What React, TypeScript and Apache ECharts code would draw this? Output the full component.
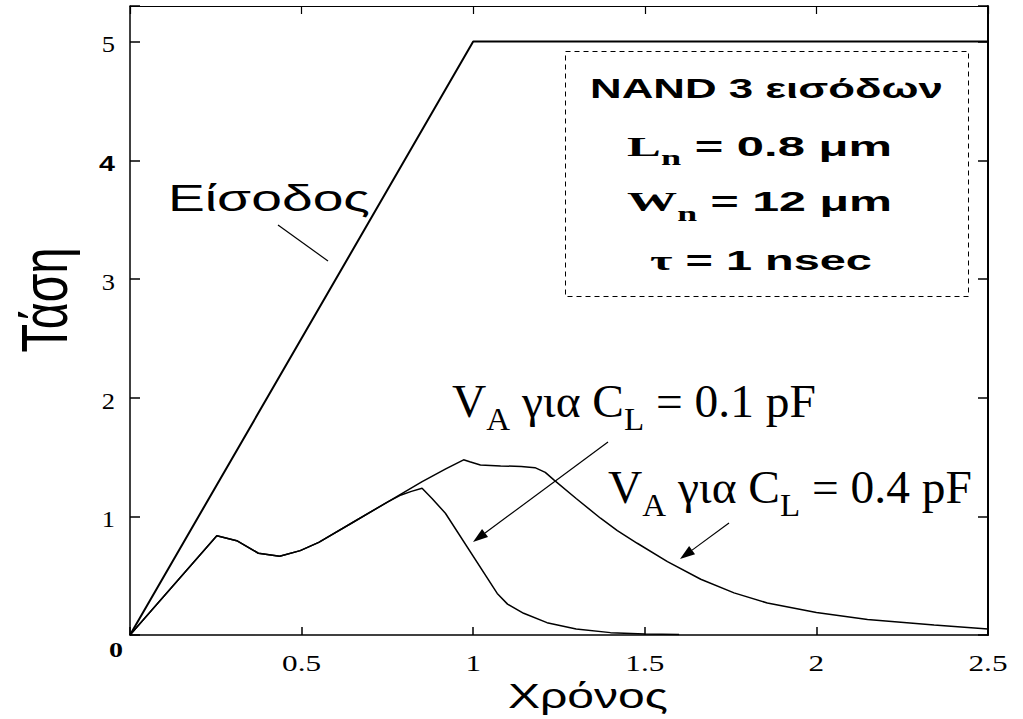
import React, { useEffect, useRef } from 'react';
import * as echarts from 'echarts';

// ---- data ----
const xTickValues = [0, 0.5, 1, 1.5, 2, 2.5];
const xTickLabels = ['', '0.5', '1', '1.5', '2', '2.5'];
const yTickValues = [0, 1, 2, 3, 4, 5];
const yTickLabels = ['', '1', '2', '3', '4', '5'];

const inputX = [0, 1, 2.5];
const inputY = [0, 5, 5];

const va01X = [0, 0.253, 0.311, 0.374, 0.436, 0.496, 0.55, 0.65, 0.75, 0.79, 0.82, 0.851, 0.88, 0.919, 1.07, 1.1, 1.147, 1.215, 1.3, 1.4, 1.5, 1.6];
const va01Y = [0, 0.837, 0.795, 0.689, 0.663, 0.711, 0.78, 0.95, 1.12, 1.18, 1.21, 1.237, 1.15, 1.026, 0.35, 0.26, 0.183, 0.104, 0.05, 0.02, 0.008, 0.005];

const va04X = [0, 0.253, 0.311, 0.374, 0.436, 0.496, 0.55, 0.65, 0.75, 0.85, 0.92, 0.972, 0.99, 1.021, 1.08, 1.14, 1.18, 1.21, 1.235, 1.3, 1.371, 1.42, 1.478, 1.566, 1.663, 1.76, 1.857, 2.0, 2.149, 2.343, 2.5];
const va04Y = [0, 0.837, 0.795, 0.689, 0.663, 0.711, 0.78, 0.95, 1.12, 1.29, 1.4, 1.476, 1.46, 1.433, 1.425, 1.42, 1.41, 1.37, 1.307, 1.15, 0.984, 0.88, 0.773, 0.618, 0.47, 0.355, 0.27, 0.19, 0.13, 0.084, 0.05];

const SANS = 'Liberation Sans, Arial, sans-serif';
const SERIF = 'Liberation Serif, Times New Roman, serif';

type Tok = { t: string; fam: string; size: number; bold?: boolean; sub?: boolean };

function fontStr(k: Tok) {
  return `${k.bold ? 'bold' : 'normal'} ${k.size}px ${k.fam}`;
}

function makeMeasure() {
  const c = document.createElement('canvas');
  const ctx = c.getContext('2d') as CanvasRenderingContext2D;
  return (toks: Tok[]) => {
    let w = 0;
    for (const k of toks) {
      ctx.font = fontStr(k);
      w += ctx.measureText(k.t).width;
    }
    return w;
  };
}

// rich text: all tokens top-aligned; subscripts pushed down with top padding
function richLabel(
  measure: (t: Tok[]) => number,
  toks: Tok[],
  o: { x: number; baseline: number; width: number; align: 'left' | 'center'; drop?: number }
) {
  const main = toks.find((k) => !k.sub) as Tok;
  const size = main.size;
  const rich: any = {};
  let text = '';
  toks.forEach((k, i) => {
    const key = 't' + i;
    const pt = k.sub ? (o.drop || 0) + (size - k.size) * 0.84 : 0;
    rich[key] = {
      fontFamily: k.fam,
      fontSize: k.size,
      fontWeight: k.bold ? 'bold' : 'normal',
      lineHeight: k.size,
      verticalAlign: 'top',
      padding: [pt, 0, 0, 0],
      fill: '#000',
    };
    text += `{${key}|${k.t}}`;
  });
  const natural = measure(toks);
  return {
    type: 'text',
    x: o.x,
    y: o.baseline - size * 0.84,
    scaleX: o.width / natural,
    silent: true,
    style: { text, rich, align: o.align, verticalAlign: 'top' },
  };
}

function arrow(x1: number, y1: number, x2: number, y2: number, len = 15, half = 5) {
  const dx = x2 - x1;
  const dy = y2 - y1;
  const L = Math.hypot(dx, dy);
  const ux = dx / L;
  const uy = dy / L;
  const bx = x2 - ux * len;
  const by = y2 - uy * len;
  const nx = -uy;
  const ny = ux;
  return [
    { type: 'line', silent: true, shape: { x1, y1, x2: bx, y2: by }, style: { stroke: '#000', lineWidth: 1.2 } },
    {
      type: 'polygon',
      silent: true,
      shape: { points: [[x2, y2], [bx + nx * half, by + ny * half], [bx - nx * half, by - ny * half]] },
      style: { fill: '#000' },
    },
  ];
}

const zip = (xs: number[], ys: number[]) => xs.map((x, i) => [x, ys[i]]);

export default function App() {
  const ref = useRef<HTMLDivElement>(null);

  useEffect(() => {
    if (!ref.current) return;
    const chart = echarts.init(ref.current, undefined, { renderer: 'svg' });
    const measure = makeMeasure();

    const axisLineStyle = { color: '#000', width: 1.5 };

    const tasiNatural = measure([{ t: 'Τάση', fam: SANS, size: 65 }]);
    const zeroNatural = measure([{ t: '0', fam: SERIF, size: 22, bold: true }]);

    const vaLabel = (val: string, x: number, baseline: number, width: number) =>
      richLabel(
        measure,
        [
          { t: 'V', fam: SERIF, size: 46 },
          { t: 'A', fam: SERIF, size: 32, sub: true },
          { t: ' για C', fam: SERIF, size: 46 },
          { t: 'L', fam: SERIF, size: 32, sub: true },
          { t: ' = ' + val + ' pF', fam: SERIF, size: 46 },
        ],
        { x, baseline, width, align: 'left', drop: 13 }
      );

    const graphic: any[] = [
      // parameter box
      {
        type: 'rect',
        silent: true,
        shape: { x: 565.5, y: 51.5, width: 403, height: 245 },
        style: { fill: 'none', stroke: '#000', lineWidth: 1, lineDash: [5, 4] },
      },
      richLabel(measure, [{ t: 'NAND 3 εισόδων', fam: SANS, size: 27, bold: true }], { x: 766.5, baseline: 97.5, width: 353, align: 'center' }),
      richLabel(
        measure,
        [
          { t: 'L', fam: SERIF, size: 28, bold: true },
          { t: 'n', fam: SERIF, size: 20, bold: true, sub: true },
          { t: ' = 0.8 μm', fam: SANS, size: 27, bold: true },
        ],
        { x: 759.5, baseline: 156, width: 265, align: 'center', drop: 9 }
      ),
      richLabel(
        measure,
        [
          { t: 'W', fam: SERIF, size: 28, bold: true },
          { t: 'n', fam: SERIF, size: 20, bold: true, sub: true },
          { t: ' = 12 μm', fam: SANS, size: 27, bold: true },
        ],
        { x: 759.5, baseline: 211.5, width: 265, align: 'center', drop: 9 }
      ),
      richLabel(
        measure,
        [
          { t: 'τ', fam: SERIF, size: 28, bold: true },
          { t: ' = 1 nsec', fam: SANS, size: 27, bold: true },
        ],
        { x: 761, baseline: 270, width: 222, align: 'center' }
      ),
      // input label and leader
      richLabel(measure, [{ t: 'Είσοδος', fam: SANS, size: 36 }], { x: 168, baseline: 211, width: 202, align: 'left' }),
      { type: 'line', silent: true, shape: { x1: 278, y1: 225, x2: 328, y2: 261 }, style: { stroke: '#000', lineWidth: 1.2 } },
      // V_A labels
      vaLabel('0.1', 452, 417, 364),
      vaLabel('0.4', 608, 503, 364),
      ...arrow(608, 442, 473, 542),
      ...arrow(729, 523, 680, 559),
      // axis titles
      {
        type: 'text',
        silent: true,
        x: 45,
        y: 300,
        rotation: Math.PI / 2,
        scaleX: 105 / tasiNatural,
        style: { text: 'Τάση', fontFamily: SANS, fontSize: 65, fill: '#000', align: 'center', verticalAlign: 'middle' },
      },
      richLabel(measure, [{ t: 'Χρόνος', fam: SANS, size: 35 }], { x: 508, baseline: 708, width: 160, align: 'left' }),
      // origin label
      {
        type: 'text',
        silent: true,
        x: 116,
        y: 650,
        scaleX: 14 / zeroNatural,
        style: { text: '0', fontFamily: SERIF, fontSize: 22, fontWeight: 'bold', fill: '#000', align: 'center', verticalAlign: 'middle' },
      },
    ];

    const lineSeries = (name: string, xs: number[], ys: number[], w: number) => ({
      name,
      type: 'line',
      data: zip(xs, ys),
      showSymbol: false,
      symbol: 'none',
      silent: true,
      lineStyle: { color: '#000', width: w },
      itemStyle: { color: '#000' },
    });

    const option: any = {
      animation: false,
      backgroundColor: '#fff',
      grid: { left: 130, right: 35, top: 6, bottom: 84, show: false, containLabel: false },
      xAxis: [
        {
          type: 'value',
          min: xTickValues[0],
          max: xTickValues[xTickValues.length - 1],
          interval: 0.5,
          position: 'bottom',
          axisLine: { show: true, onZero: false, lineStyle: axisLineStyle },
          axisTick: { show: true, inside: true, length: 8, lineStyle: axisLineStyle },
          axisLabel: { show: false },
          splitLine: { show: false },
        },
        {
          type: 'value',
          min: xTickValues[0],
          max: xTickValues[xTickValues.length - 1],
          interval: 0.5,
          position: 'top',
          axisLine: { show: true, onZero: false, lineStyle: { color: '#000', width: 1.2 } },
          axisTick: { show: true, inside: true, length: 8, lineStyle: { color: '#000', width: 1.2 } },
          axisLabel: { show: false },
          splitLine: { show: false },
        },
      ],
      yAxis: [
        {
          type: 'value',
          min: yTickValues[0],
          max: 5.3,
          interval: 1,
          position: 'left',
          axisLine: { show: true, onZero: false, lineStyle: axisLineStyle },
          axisTick: { show: true, inside: true, length: 10, lineStyle: axisLineStyle },
          axisLabel: { show: false },
          splitLine: { show: false },
        },
        {
          type: 'value',
          min: yTickValues[0],
          max: 5.3,
          interval: 1,
          position: 'right',
          axisLine: { show: true, onZero: false, lineStyle: { color: '#000', width: 2 } },
          axisTick: { show: true, inside: true, length: 10, lineStyle: axisLineStyle },
          axisLabel: { show: false },
          splitLine: { show: false },
        },
      ],
      series: [
        lineSeries('Είσοδος', inputX, inputY, 2),
        lineSeries('V_A για C_L = 0.1 pF', va01X, va01Y, 1.5),
        lineSeries('V_A για C_L = 0.4 pF', va04X, va04Y, 1.5),
      ],
      graphic,
    };

    chart.setOption(option);

    // tick labels placed through the axes' own scales (stretched like the reference glyphs)
    const px = (v: number) => chart.convertToPixel({ xAxisIndex: 0 }, v) as unknown as number;
    const py = (v: number) => chart.convertToPixel({ yAxisIndex: 0 }, v) as unknown as number;
    const axisY = py(0);
    const axisX = px(0);
    const tickLabels: any[] = [];
    xTickValues.forEach((v, i) => {
      if (!xTickLabels[i]) return;
      tickLabels.push({
        type: 'text',
        silent: true,
        x: px(v),
        y: axisY + 28,
        scaleX: 1.3,
        style: { text: xTickLabels[i], fontFamily: SERIF, fontSize: 24, fill: '#000', align: 'center', verticalAlign: 'middle' },
      });
    });
    yTickValues.forEach((v, i) => {
      if (!yTickLabels[i]) return;
      const isBold = yTickLabels[i] === '4';
      tickLabels.push({
        type: 'text',
        silent: true,
        x: axisX - 15,
        y: py(v) + 3,
        scaleX: isBold ? 1.3 : 1.15,
        style: {
          text: yTickLabels[i],
          fontFamily: isBold ? SANS : SERIF,
          fontWeight: isBold ? 'bold' : 'normal',
          fontSize: isBold ? 22 : 23,
          fill: '#000',
          align: 'right',
          verticalAlign: 'middle',
        },
      });
    });
    chart.setOption({ graphic: [...graphic, ...tickLabels] });

    return () => chart.dispose();
  }, []);

  return (
    <div
      ref={ref}
      style={{ position: 'absolute', left: 0, top: 0, width: 1023, height: 719, background: '#fff' }}
    />
  );
}
